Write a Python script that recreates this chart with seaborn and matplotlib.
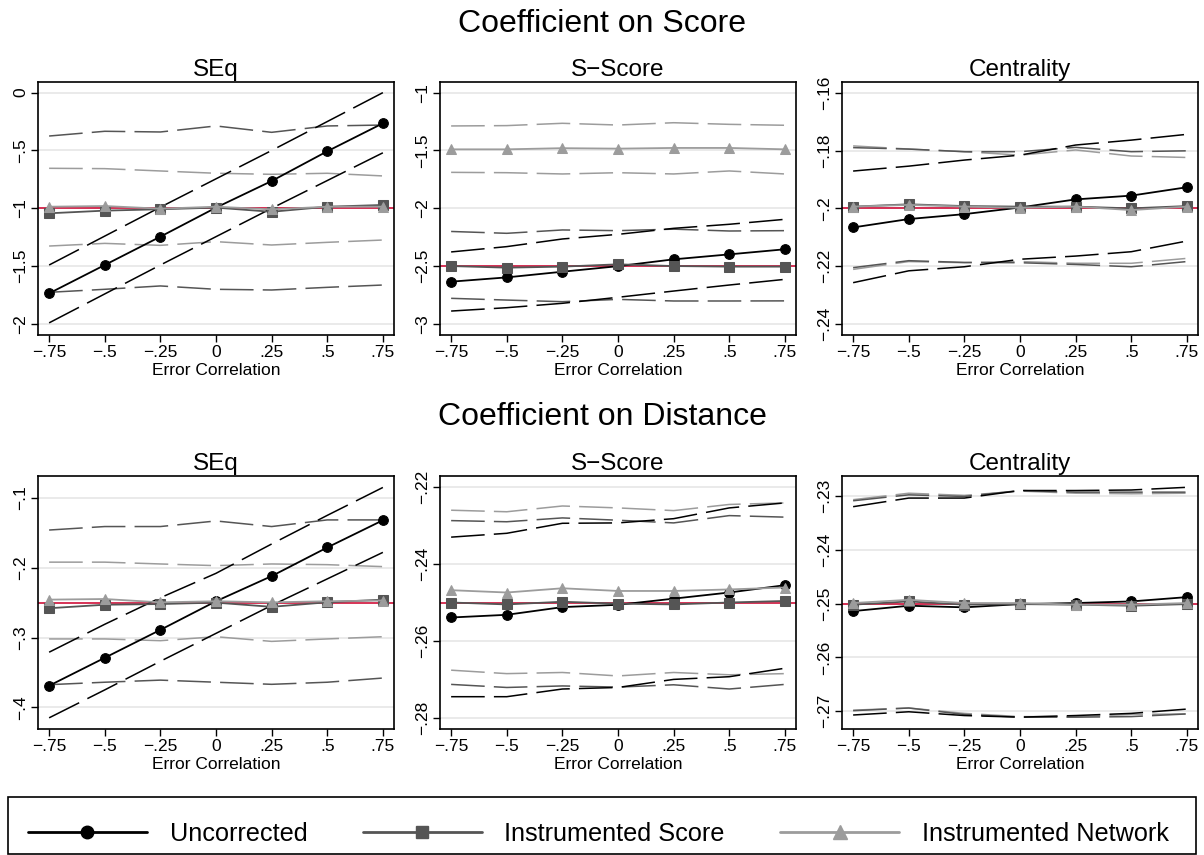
import matplotlib
matplotlib.use("Agg")
import matplotlib.pyplot as plt
from matplotlib.lines import Line2D
from matplotlib.patches import Rectangle
import seaborn as sns
import pandas as pd
import numpy as np

# x axis: error correlation
err_corr = [-0.75, -0.5, -0.25, 0, 0.25, 0.5, 0.75]
x_ticks = [-0.75, -0.5, -0.25, 0, 0.25, 0.5, 0.75]
x_ticklabels = ["\u2212.75", "\u2212.5", "\u2212.25", "0", ".25", ".5", ".75"]

# ---- Coefficient on Score, SEq ----
sc_seq_unc = [-1.735, -1.49, -1.245, -0.994, -0.764, -0.507, -0.265]
sc_seq_unc_hi = [-1.49, -1.24, -0.99, -0.745, -0.5, -0.25, 0.0]
sc_seq_unc_lo = [-1.99, -1.74, -1.49, -1.245, -1.0, -0.76, -0.52]
sc_seq_isc = [-1.043, -1.02, -1.008, -0.994, -1.03, -0.986, -0.971]
sc_seq_isc_hi = [-0.375, -0.334, -0.34, -0.288, -0.343, -0.288, -0.28]
sc_seq_isc_lo = [-1.726, -1.70, -1.671, -1.70, -1.706, -1.683, -1.663]
sc_seq_inw = [-0.986, -0.98, -1.003, -0.986, -1.009, -0.986, -0.986]
sc_seq_inw_hi = [-0.654, -0.657, -0.677, -0.697, -0.706, -0.697, -0.72]
sc_seq_inw_lo = [-1.326, -1.303, -1.32, -1.288, -1.317, -1.294, -1.274]

# ---- Coefficient on Score, S-Score ----
sc_ssc_unc = [-2.634, -2.597, -2.548, -2.50, -2.441, -2.398, -2.354]
sc_ssc_unc_hi = [-2.377, -2.331, -2.265, -2.225, -2.173, -2.138, -2.095]
sc_ssc_unc_lo = [-2.888, -2.859, -2.821, -2.769, -2.715, -2.663, -2.614]
sc_ssc_isc = [-2.499, -2.513, -2.504, -2.484, -2.499, -2.504, -2.504]
sc_ssc_isc_hi = [-2.20, -2.216, -2.187, -2.193, -2.18, -2.196, -2.193]
sc_ssc_isc_lo = [-2.778, -2.793, -2.807, -2.787, -2.801, -2.801, -2.80]
sc_ssc_inw = [-1.49, -1.49, -1.48, -1.484, -1.478, -1.478, -1.49]
sc_ssc_inw_hi = [-1.288, -1.285, -1.265, -1.28, -1.26, -1.274, -1.282]
sc_ssc_inw_lo = [-1.689, -1.692, -1.703, -1.692, -1.703, -1.677, -1.703]

# ---- Coefficient on Score, Centrality ----
sc_cen_unc = [-0.2066, -0.2037, -0.202, -0.1997, -0.1969, -0.1956, -0.1927]
sc_cen_unc_hi = [-0.1871, -0.1854, -0.1833, -0.1816, -0.1781, -0.1764, -0.1744]
sc_cen_unc_lo = [-0.2257, -0.2216, -0.2202, -0.2176, -0.2165, -0.215, -0.2113]
sc_cen_isc = [-0.1994, -0.1986, -0.1992, -0.1994, -0.1994, -0.2, -0.1992]
sc_cen_isc_hi = [-0.179, -0.1795, -0.1804, -0.1804, -0.1789, -0.1804, -0.1801]
sc_cen_isc_lo = [-0.2205, -0.2181, -0.2187, -0.2188, -0.2194, -0.2202, -0.2184]
sc_cen_inw = [-0.1994, -0.1988, -0.1994, -0.1998, -0.1994, -0.2006, -0.1994]
sc_cen_inw_hi = [-0.1784, -0.1795, -0.1804, -0.1816, -0.1798, -0.1819, -0.1824]
sc_cen_inw_lo = [-0.2211, -0.2184, -0.2188, -0.2184, -0.219, -0.219, -0.2173]

# ---- Coefficient on Distance, SEq ----
di_seq_unc = [-0.369, -0.329, -0.289, -0.248, -0.212, -0.171, -0.132]
di_seq_unc_hi = [-0.321, -0.281, -0.243, -0.208, -0.166, -0.125, -0.085]
di_seq_unc_lo = [-0.415, -0.375, -0.334, -0.294, -0.254, -0.216, -0.178]
di_seq_isc = [-0.258, -0.253, -0.252, -0.25, -0.256, -0.2495, -0.2457]
di_seq_isc_hi = [-0.146, -0.141, -0.141, -0.133, -0.141, -0.1315, -0.1315]
di_seq_isc_lo = [-0.3675, -0.364, -0.361, -0.364, -0.367, -0.364, -0.358]
di_seq_inw = [-0.2457, -0.2448, -0.2496, -0.248, -0.2496, -0.248, -0.247]
di_seq_inw_hi = [-0.192, -0.192, -0.1946, -0.197, -0.1946, -0.1956, -0.1984]
di_seq_inw_lo = [-0.302, -0.302, -0.3045, -0.2988, -0.3055, -0.302, -0.2988]

# ---- Coefficient on Distance, S-Score ----
di_ssc_unc = [-0.2539, -0.2532, -0.2512, -0.2506, -0.249, -0.2474, -0.2455]
di_ssc_unc_hi = [-0.233, -0.232, -0.2294, -0.2293, -0.2282, -0.2254, -0.2241]
di_ssc_unc_lo = [-0.2745, -0.2745, -0.2725, -0.2721, -0.27, -0.2693, -0.2671]
di_ssc_isc = [-0.25, -0.2505, -0.2498, -0.2503, -0.2505, -0.25, -0.2496]
di_ssc_isc_hi = [-0.2287, -0.229, -0.228, -0.2286, -0.2293, -0.2274, -0.2278]
di_ssc_isc_lo = [-0.2713, -0.2721, -0.2717, -0.272, -0.2714, -0.2725, -0.2713]
di_ssc_inw = [-0.2468, -0.2474, -0.2463, -0.247, -0.247, -0.2466, -0.2461]
di_ssc_inw_hi = [-0.226, -0.2264, -0.2249, -0.2254, -0.2261, -0.2245, -0.2241]
di_ssc_inw_lo = [-0.2676, -0.2685, -0.2682, -0.2691, -0.2682, -0.2688, -0.2685]

# ---- Coefficient on Distance, Centrality ----
di_cen_unc = [-0.2514, -0.2504, -0.2507, -0.2501, -0.2499, -0.2496, -0.2488]
di_cen_unc_hi = [-0.232, -0.2304, -0.2304, -0.229, -0.229, -0.2289, -0.2284]
di_cen_unc_lo = [-0.2707, -0.2701, -0.2708, -0.2711, -0.2708, -0.2704, -0.2696]
di_cen_isc = [-0.2502, -0.2496, -0.2502, -0.2501, -0.2502, -0.2504, -0.2501]
di_cen_isc_hi = [-0.2309, -0.2298, -0.2301, -0.229, -0.2293, -0.2293, -0.2293]
di_cen_isc_lo = [-0.2699, -0.2694, -0.2706, -0.2711, -0.2711, -0.271, -0.2705]
di_cen_inw = [-0.2499, -0.2493, -0.2499, -0.2499, -0.2502, -0.2502, -0.2499]
di_cen_inw_hi = [-0.2307, -0.2295, -0.2299, -0.2291, -0.2295, -0.2296, -0.2295]
di_cen_inw_lo = [-0.2698, -0.2694, -0.2704, -0.271, -0.271, -0.2706, -0.2705]

# true parameter values (red reference line)
true_score = [-1.0, -2.5, -0.2]
true_distance = [-0.25, -0.25, -0.25]

panel_titles = ["SEq", "S\u2212Score", "Centrality"]
row_titles = ["Coefficient on Score", "Coefficient on Distance"]
series_labels = ["Uncorrected", "Instrumented Score", "Instrumented Network"]

score_yticks = [[0, -0.5, -1, -1.5, -2], [-1, -1.5, -2, -2.5, -3], [-0.16, -0.18, -0.2, -0.22, -0.24]]
score_yticklabels = [["0", "\u2212.5", "\u22121", "\u22121.5", "\u22122"],
                     ["\u22121", "\u22121.5", "\u22122", "\u22122.5", "\u22123"],
                     ["\u2212.16", "\u2212.18", "\u2212.2", "\u2212.22", "\u2212.24"]]
dist_yticks = [[-0.1, -0.2, -0.3, -0.4], [-0.22, -0.24, -0.26, -0.28], [-0.23, -0.24, -0.25, -0.26, -0.27]]
dist_yticklabels = [["\u2212.1", "\u2212.2", "\u2212.3", "\u2212.4"],
                    ["\u2212.22", "\u2212.24", "\u2212.26", "\u2212.28"],
                    ["\u2212.23", "\u2212.24", "\u2212.25", "\u2212.26", "\u2212.27"]]

score_ylims = [(-2.095, 0.092), (-3.095, -0.908), (-0.2438, -0.1563)]
dist_ylims = [(-0.431, -0.0686), (-0.2829, -0.2171), (-0.2733, -0.2263)]

# styles
series_colors = ["#000000", "#555555", "#9c9c9c"]
series_markers = ["o", "s", "^"]
marker_sizes = [7, 6.5, 7.5]
true_color = "#d0103a"
grid_color = "#e6e6e6"
dash_style = (0, (22, 6))
title_fontsize = 23
subtitle_fontsize = 17.5
tick_fontsize = 12.5
xlabel_fontsize = 12.5
legend_fontsize = 18.2

sns.set_theme(style="white")
plt.rcParams['font.family'] = ['Liberation Sans', 'DejaVu Sans']
plt.rcParams['text.color'] = 'black'
plt.rcParams['axes.labelcolor'] = 'black'
plt.rcParams['xtick.color'] = 'black'
plt.rcParams['ytick.color'] = 'black'

fig = plt.figure(figsize=(12.04, 8.55), dpi=100)

panel_lefts = [38, 440, 842]
panel_width = 356
row_bottoms = [335, 729]
panel_height = 253

panels = [
    [(sc_seq_unc, sc_seq_unc_lo, sc_seq_unc_hi), (sc_seq_isc, sc_seq_isc_lo, sc_seq_isc_hi), (sc_seq_inw, sc_seq_inw_lo, sc_seq_inw_hi)],
    [(sc_ssc_unc, sc_ssc_unc_lo, sc_ssc_unc_hi), (sc_ssc_isc, sc_ssc_isc_lo, sc_ssc_isc_hi), (sc_ssc_inw, sc_ssc_inw_lo, sc_ssc_inw_hi)],
    [(sc_cen_unc, sc_cen_unc_lo, sc_cen_unc_hi), (sc_cen_isc, sc_cen_isc_lo, sc_cen_isc_hi), (sc_cen_inw, sc_cen_inw_lo, sc_cen_inw_hi)],
    [(di_seq_unc, di_seq_unc_lo, di_seq_unc_hi), (di_seq_isc, di_seq_isc_lo, di_seq_isc_hi), (di_seq_inw, di_seq_inw_lo, di_seq_inw_hi)],
    [(di_ssc_unc, di_ssc_unc_lo, di_ssc_unc_hi), (di_ssc_isc, di_ssc_isc_lo, di_ssc_isc_hi), (di_ssc_inw, di_ssc_inw_lo, di_ssc_inw_hi)],
    [(di_cen_unc, di_cen_unc_lo, di_cen_unc_hi), (di_cen_isc, di_cen_isc_lo, di_cen_isc_hi), (di_cen_inw, di_cen_inw_lo, di_cen_inw_hi)],
]
true_values = true_score + true_distance
all_yticks = score_yticks + dist_yticks
all_yticklabels = score_yticklabels + dist_yticklabels
all_ylims = score_ylims + dist_ylims

W, H = 1204, 855
for i, series in enumerate(panels):
    row, col = divmod(i, 3)
    ax = fig.add_axes([panel_lefts[col] / W, (H - row_bottoms[row]) / H,
                       panel_width / W, panel_height / H])
    # gridlines
    for yt in all_yticks[i]:
        ax.axhline(yt, color=grid_color, lw=1.2, zorder=0)
    ax.axhline(true_values[i], color=true_color, lw=1.2, zorder=1)

    # bands first (draw order: light -> dark)
    for s in [2, 1, 0]:
        est, lo, hi = series[s]
        for band in (lo, hi):
            sns.lineplot(x=err_corr, y=band, ax=ax, color=series_colors[s], lw=1.1,
                         linestyle=dash_style, errorbar=None, zorder=2 + (2 - s) * 0.1)
    for s in [0, 1, 2]:
        est, lo, hi = series[s]
        sns.lineplot(x=err_corr, y=est, ax=ax, color=series_colors[s], lw=1.3,
                     marker=series_markers[s], markersize=marker_sizes[s],
                     markeredgecolor=series_colors[s], markerfacecolor=series_colors[s],
                     errorbar=None, zorder=3 + s * 0.1)

    ax.set_xlim(-0.80, 0.80)
    ax.set_ylim(*all_ylims[i])
    ax.set_xticks(x_ticks)
    ax.set_xticklabels(x_ticklabels, fontsize=tick_fontsize)
    ax.set_yticks(all_yticks[i])
    ax.set_yticklabels(all_yticklabels[i], fontsize=tick_fontsize, rotation=90, va="center")
    ax.tick_params(axis="both", direction="out", length=5, width=1, color="black",
                   bottom=True, left=True, pad=2)
    ax.set_xlabel("Error Correlation", fontsize=xlabel_fontsize, labelpad=2)
    ax.set_ylabel("")
    ax.set_title(panel_titles[col], fontsize=subtitle_fontsize, pad=4)
    for sp in ax.spines.values():
        sp.set_color("black")
        sp.set_linewidth(1.2)
    ax.grid(False)

# row titles
fig.text(0.5, 1 - 32 / H, row_titles[0], ha="center", va="baseline", fontsize=title_fontsize)
fig.text(0.5, 1 - 425 / H, row_titles[1], ha="center", va="baseline", fontsize=title_fontsize)

# legend box
fig.patches.append(Rectangle((8 / W, 0.0015), 1188 / W, 57 / H, transform=fig.transFigure,
                             fill=False, edgecolor="black", lw=1.2))
handles = [Line2D([], [], color=series_colors[s], lw=2, marker=series_markers[s],
                  markersize=marker_sizes[s] + 2, markerfacecolor=series_colors[s],
                  markeredgecolor=series_colors[s]) for s in range(3)]
fig.legend(handles=handles, labels=series_labels, loc="center left", ncol=3,
           bbox_to_anchor=(28 / W, 1 - 834 / H), frameon=False,
           fontsize=legend_fontsize, handlelength=4.7, handletextpad=0.9,
           columnspacing=2.2, borderaxespad=0, borderpad=0)

fig.savefig("out.png", dpi=100)
